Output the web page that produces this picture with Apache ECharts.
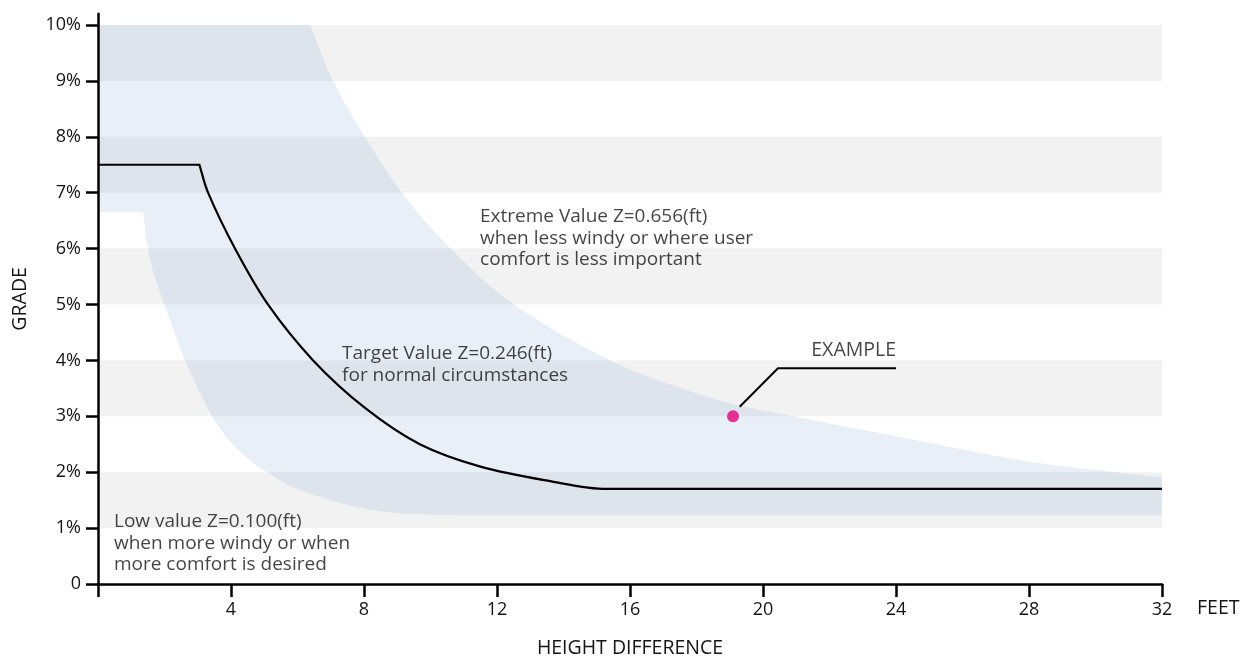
<!DOCTYPE html>
<html>
<head>
<meta charset="utf-8">
<script src="https://cdn.jsdelivr.net/npm/echarts@6/dist/echarts.min.js"></script>
<style>
html,body{margin:0;padding:0;background:#fff;}
#chart{width:1243px;height:656px;}
</style>
</head>
<body>
<div id="chart"></div>
<script>
// ---- data (feet, grade %) ----
const feetTicks = [0, 4, 8, 12, 16, 20, 24, 28, 32];
const gradeTicks = [0, 1, 2, 3, 4, 5, 6, 7, 8, 9, 10];
const stripeBands = [[1, 2], [3, 4], [5, 6], [7, 8], [9, 10]];

// upper edge of the shaded range (Extreme value Z=0.656)
const extremeCurve = [
  [0, 10], [6.38, 10], [7.07, 9.0], [8.03, 8.0], [9.14, 7.0], [10.6, 6.0], [12.5, 5.0],
  [15.4, 4.0], [17.3, 3.55], [19.1, 3.22], [21.1, 2.98], [23.0, 2.76], [25.2, 2.5],
  [28.1, 2.18], [32, 1.91]
];
// lower edge of the shaded range (Low value Z=0.100)
const lowCurve = [
  [0, 6.65], [1.36, 6.65], [1.42, 6.3], [1.5, 6.0], [1.7, 5.5], [2.0, 5.0], [2.3, 4.5],
  [2.62, 4.0], [3.0, 3.5], [3.43, 3.0], [3.9, 2.6], [4.4, 2.3], [5.08, 2.0], [5.8, 1.75],
  [6.5, 1.59], [7.1, 1.48], [8.0, 1.35], [9.0, 1.27], [10.2, 1.24], [11.5, 1.23], [32, 1.23]
];
// target line (Z=0.246)
const targetCurve = [
  [0, 7.5], [3.05, 7.5], [3.31, 7.0], [4.12, 6.0], [5.11, 5.0], [6.47, 4.0], [8.03, 3.15],
  [9.68, 2.5], [11.5, 2.1], [13.6, 1.84], [15.3, 1.70], [32, 1.70]
];
const examplePoint = [19.1, 3.0];
const exampleLeader = [[19.3, 3.17], [20.45, 3.86], [24.0, 3.86]];
const annotations = [
  { at: [11.49, 6.76], text: 'Extreme Value Z=0.656(ft)\nwhen less windy or where user\ncomfort is less important' },
  { at: [7.34, 4.31], text: 'Target Value Z=0.246(ft)\nfor normal circumstances' },
  { at: [0.48, 1.3], text: 'Low value Z=0.100(ft)\nwhen more windy or when\nmore comfort is desired' }
];
const exampleLabel = { at: [24.0, 4.17], text: 'EXAMPLE' };

const FONT = '"Open Sans", sans-serif';
const TXT = '#141414';

// smooth path through pixel points; "corners" keep a sharp joint,
// flat (horizontal) runs stay straight and are joined tangentially
function curvePath(P, corners, moveFirst) {
  const n = P.length;
  const dir = (a, b) => { const dx = b[0] - a[0], dy = b[1] - a[1]; const l = Math.hypot(dx, dy) || 1; return [dx / l, dy / l]; };
  const flat = (i) => i >= 0 && i < n - 1 && Math.abs(P[i][1] - P[i + 1][1]) < 0.01;
  const tin = [], tout = [];
  for (let i = 0; i < n; i++) {
    if (i === 0) { tout[i] = dir(P[0], P[1]); tin[i] = tout[i]; }
    else if (i === n - 1) { tin[i] = dir(P[n - 2], P[n - 1]); tout[i] = tin[i]; }
    else if (corners.indexOf(i) >= 0) { tin[i] = dir(P[i - 1], P[i]); tout[i] = dir(P[i], P[i + 1]); }
    else if (flat(i)) { const t = dir(P[i], P[i + 1]); tin[i] = t; tout[i] = t; }
    else if (flat(i - 1)) { const t = dir(P[i - 1], P[i]); tin[i] = t; tout[i] = t; }
    else { const t = dir(P[i - 1], P[i + 1]); tin[i] = t; tout[i] = t; }
  }
  let s = (moveFirst ? 'M' : 'L') + P[0][0] + ' ' + P[0][1];
  for (let i = 0; i < n - 1; i++) {
    if (flat(i)) { s += ' L' + P[i + 1][0] + ' ' + P[i + 1][1]; continue; }
    const d = Math.hypot(P[i + 1][0] - P[i][0], P[i + 1][1] - P[i][1]) / 3;
    s += ' C' + (P[i][0] + tout[i][0] * d) + ' ' + (P[i][1] + tout[i][1] * d) + ' ' +
      (P[i + 1][0] - tin[i + 1][0] * d) + ' ' + (P[i + 1][1] - tin[i + 1][1] * d) + ' ' +
      P[i + 1][0] + ' ' + P[i + 1][1];
  }
  return s;
}

const chart = echarts.init(document.getElementById('chart'), null, { renderer: 'canvas' });

const option = {
  animation: false,
  backgroundColor: '#fff',
  textStyle: { fontFamily: FONT, color: TXT },
  grid: { left: 98, right: 81, top: 13.8, bottom: 72, containLabel: false, outerBoundsMode: 'none' },
  xAxis: {
    type: 'value', min: 0, max: 32, interval: 4, z: 10,
    name: 'HEIGHT DIFFERENCE', nameLocation: 'middle', nameGap: 54,
    nameTextStyle: { fontFamily: FONT, fontSize: 19.5, color: TXT },
    axisLine: { show: true, onZero: false, lineStyle: { color: '#000', width: 2.5 } },
    axisTick: { show: true, inside: false, length: 13, lineStyle: { color: '#000', width: 2.5 }, customValues: feetTicks },
    axisLabel: { show: true, margin: 17, fontFamily: FONT, fontSize: 18, color: TXT,
      customValues: feetTicks, formatter: v => (v === 0 ? '' : String(v)) },
    splitLine: { show: false }
  },
  yAxis: {
    type: 'value', min: 0, max: 10.2, interval: 1, z: 10,
    name: 'GRADE', nameLocation: 'middle', nameGap: 68, nameRotate: 90,
    nameTextStyle: { fontFamily: FONT, fontSize: 19.5, color: TXT },
    axisLine: { show: true, lineStyle: { color: '#000', width: 2.5 } },
    axisTick: { show: true, inside: false, length: 12, lineStyle: { color: '#000', width: 2.5 }, customValues: gradeTicks },
    axisLabel: { show: true, margin: 17, fontFamily: FONT, fontSize: 18, color: TXT,
      customValues: gradeTicks, formatter: v => (v === 0 ? '0' : v + '%') },
    splitLine: { show: false }
  },
  graphic: [
    { type: 'text', x: 1197, y: 608, z: 10,
      style: { text: 'FEET', fontFamily: FONT, fontSize: 19.5, fill: TXT, verticalAlign: 'middle', align: 'left' } }
  ],
  series: [
    {
      name: 'stripes', type: 'line', data: [], z: 1, silent: true,
      markArea: {
        silent: true,
        itemStyle: { color: '#f2f2f2' },
        data: stripeBands.map(b => [{ coord: [0, b[0]] }, { coord: [32, b[1]] }])
      }
    },
    {
      name: 'range', type: 'custom', z: 2, silent: true,
      coordinateSystem: 'cartesian2d',
      data: [[0, 0]],
      renderItem: function (params, api) {
        const up = extremeCurve.map(p => api.coord(p));
        const low = lowCurve.slice().reverse().map(p => api.coord(p));
        const path = curvePath(up, [1], true) + ' ' + curvePath(low, [low.length - 2], false) + ' Z';
        return { type: 'path', shape: { pathData: path }, style: { fill: 'rgba(140,175,215,0.2)', stroke: null } };
      }
    },
    {
      name: 'target', type: 'custom', z: 5, silent: true,
      coordinateSystem: 'cartesian2d',
      data: [[0, 0]],
      renderItem: function (params, api) {
        const pts = targetCurve.map(p => api.coord(p));
        return { type: 'path', shape: { pathData: curvePath(pts, [1], true) },
          style: { fill: null, stroke: '#000', lineWidth: 2.2 } };
      }
    },
    {
      name: 'leader', type: 'line', z: 5, data: exampleLeader, showSymbol: false, symbol: 'none', silent: true,
      lineStyle: { color: '#000', width: 2 }
    },
    {
      name: 'example', type: 'scatter', z: 6, data: [examplePoint], symbolSize: 12, silent: true,
      itemStyle: { color: '#e4007c' }
    },
    {
      name: 'notes', type: 'scatter', z: 7, symbolSize: 0, silent: true,
      data: annotations.map(a => ({ value: a.at, label: { formatter: a.text } })),
      label: { show: true, position: [0, 0], align: 'left', verticalAlign: 'top',
        fontFamily: FONT, fontSize: 19, lineHeight: 21.5, color: TXT }
    },
    {
      name: 'exampleLabel', type: 'scatter', z: 7, symbolSize: 0, silent: true,
      data: [{ value: exampleLabel.at, label: { formatter: exampleLabel.text } }],
      label: { show: true, position: [0, 0], align: 'right', verticalAlign: 'middle',
        fontFamily: FONT, fontSize: 19.5, color: TXT }
    }
  ]
};
chart.setOption(option);
</script>
</body>
</html>
